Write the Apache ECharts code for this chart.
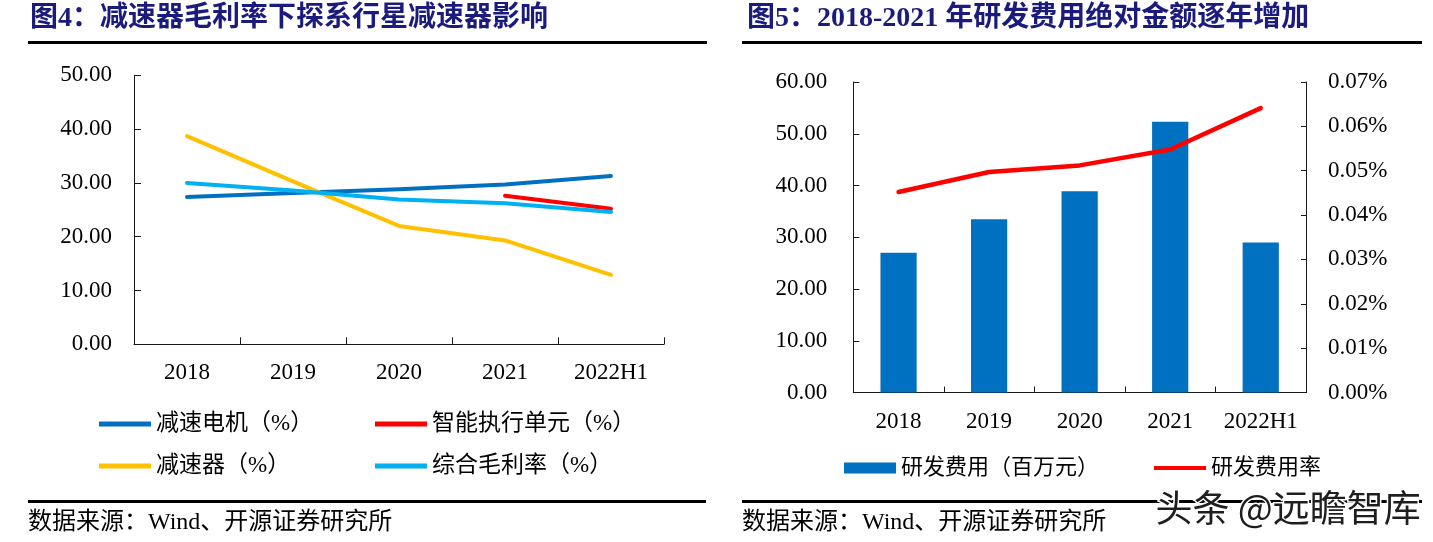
<!DOCTYPE html>
<html><head><meta charset="utf-8">
<script src="https://cdn.jsdelivr.net/npm/echarts@6/dist/echarts.min.js"></script>
<style>html,body{margin:0;padding:0;background:#fff}#c{width:1433px;height:542px}</style>
</head><body><div id="c"></div>
<script>
// ---- data ----
const categories = ['2018', '2019', '2020', '2021', '2022H1'];
const motorMargin = [27.4, 28.1, 28.8, 29.7, 31.3];      // 减速电机（%）
const actuatorMargin = [null, null, null, 27.6, 25.2];   // 智能执行单元（%）
const reducerMargin = [38.7, 30.3, 22.0, 19.3, 12.9];    // 减速器（%）
const totalMargin = [30.0, 28.6, 26.9, 26.2, 24.6];      // 综合毛利率（%）
const rdExpense = [27.0, 33.5, 38.9, 52.3, 29.0];        // 研发费用（百万元）
const rdRate = [0.0452, 0.0497, 0.0512, 0.0548, 0.0641]; // 研发费用率（%）
const leftNames = ['减速电机（%）', '智能执行单元（%）', '减速器（%）', '综合毛利率（%）'];
const rightNames = ['研发费用（百万元）', '研发费用率'];
const titles = ['图4：减速器毛利率下探系行星减速器影响', '图5：2018-2021 年研发费用绝对金额逐年增加'];
const sourceText = '数据来源：Wind、开源证券研究所';
const watermark = '头条 @远瞻智库';

const SERIF = '"Liberation Serif", "Noto Sans CJK SC", serif';
const C = { navy: '#1b1b7d', dblue: '#0070C0', red: '#FF0000', yellow: '#FFC000', lblue: '#00B0F0', axis: '#1a1a1a' };

const chart = echarts.init(document.getElementById('c'), null, { renderer: 'canvas' });

const axisLabel = (extra) => Object.assign({ color: '#000', fontFamily: SERIF, fontSize: 23 }, extra);
const lineSeries = (name, data, color, idx) => ({
  name, type: 'line', data, xAxisIndex: idx, yAxisIndex: idx, color,
  symbol: 'none', showSymbol: false, connectNulls: false,
  lineStyle: { color, width: 4, cap: 'round', join: 'round' }
});
const legendItem = (name, left, top, w, h, fs) => ({
  data: [name], left, top, padding: 0, itemWidth: w, itemHeight: h, icon: 'rect',
  textStyle: { color: '#000', fontFamily: SERIF, fontSize: fs }
});

const option = {
  animation: false,
  backgroundColor: '#fff',
  grid: [
    { left: 134, top: 75.3, width: 530, height: 269, outerBoundsMode: 'none' },
    { left: 853.3, top: 82, width: 452.7, height: 310.5, outerBoundsMode: 'none' }
  ],
  xAxis: [
    { gridIndex: 0, type: 'category', data: categories, boundaryGap: true,
      axisLine: { show: true, lineStyle: { color: C.axis, width: 1 } },
      axisTick: { show: true, inside: true, length: 7, lineStyle: { color: C.axis } },
      axisLabel: axisLabel({ margin: 17, interval: 0 }), splitLine: { show: false } },
    { gridIndex: 1, type: 'category', data: categories, boundaryGap: true,
      axisLine: { show: true, lineStyle: { color: C.axis, width: 1 } },
      axisTick: { show: true, inside: true, length: 6, lineStyle: { color: C.axis } },
      axisLabel: axisLabel({ margin: 18, interval: 0 }), splitLine: { show: false } }
  ],
  yAxis: [
    { gridIndex: 0, type: 'value', min: 0, max: 50, interval: 10,
      axisLine: { show: true, lineStyle: { color: C.axis, width: 1 } },
      axisTick: { show: true, inside: true, length: 7, lineStyle: { color: C.axis } },
      axisLabel: axisLabel({ margin: 22, formatter: v => v.toFixed(2) }), splitLine: { show: false } },
    { gridIndex: 1, type: 'value', min: 0, max: 60, interval: 10, position: 'left',
      axisLine: { show: true, lineStyle: { color: C.axis, width: 1 } },
      axisTick: { show: true, inside: true, length: 6, lineStyle: { color: C.axis } },
      axisLabel: axisLabel({ margin: 26, formatter: v => v.toFixed(2) }), splitLine: { show: false } },
    { gridIndex: 1, type: 'value', min: 0, max: 0.07, interval: 0.01, position: 'right',
      axisLine: { show: true, lineStyle: { color: C.axis, width: 1 } },
      axisTick: { show: true, inside: true, length: 5, lineStyle: { color: C.axis } },
      axisLabel: axisLabel({ margin: 22, formatter: v => v.toFixed(2) + '%' }), splitLine: { show: false } }
  ],
  legend: [
    legendItem(leftNames[0], 99, 412.5, 52, 5, 23),
    legendItem(leftNames[2], 99, 454.5, 52, 5, 23),
    legendItem(leftNames[1], 375, 412.5, 52, 5, 23),
    legendItem(leftNames[3], 375, 454.5, 52, 5, 23),
    legendItem(rightNames[0], 844, 457, 52, 11, 22),
    legendItem(rightNames[1], 1154, 457, 52, 4, 22)
  ],
  series: [
    lineSeries(leftNames[0], motorMargin, C.dblue, 0),
    lineSeries(leftNames[1], actuatorMargin, C.red, 0),
    lineSeries(leftNames[2], reducerMargin, C.yellow, 0),
    lineSeries(leftNames[3], totalMargin, C.lblue, 0),
    { name: rightNames[0], type: 'bar', data: rdExpense, xAxisIndex: 1, yAxisIndex: 1,
      color: C.dblue, barWidth: '40%', itemStyle: { color: C.dblue } },
    { name: rightNames[1], type: 'line', data: rdRate, xAxisIndex: 1, yAxisIndex: 2, color: C.red,
      symbol: 'none', showSymbol: false, lineStyle: { color: C.red, width: 4.5, cap: 'round', join: 'round' } }
  ],
  graphic: [
    { type: 'text', left: 30, top: 5, style: { text: titles[0], font: 'bold 28px ' + SERIF, fill: C.navy } },
    { type: 'text', left: 747, top: 5, style: { text: titles[1], font: 'bold 28px ' + SERIF, fill: C.navy } },
    { type: 'rect', shape: { x: 28, y: 41, width: 679, height: 3 }, style: { fill: '#000' } },
    { type: 'rect', shape: { x: 742, y: 41, width: 680, height: 3 }, style: { fill: '#000' } },
    { type: 'rect', shape: { x: 28, y: 500, width: 678, height: 3 }, style: { fill: '#000' } },
    { type: 'rect', shape: { x: 742, y: 500, width: 680, height: 3 }, style: { fill: '#000' } },
    { type: 'text', left: 28, top: 510.5, style: { text: sourceText, font: '24px ' + SERIF, fill: '#000' } },
    { type: 'text', left: 742, top: 510.5, style: { text: sourceText, font: '24px ' + SERIF, fill: '#000' } },
    { type: 'text', left: 1154, top: 488, z: 100, style: { text: watermark, font: '37px "Noto Sans CJK SC", sans-serif', fill: '#1e1e1e', stroke: '#fff', lineWidth: 3 } }
  ]
};
chart.setOption(option);
</script></body></html>
